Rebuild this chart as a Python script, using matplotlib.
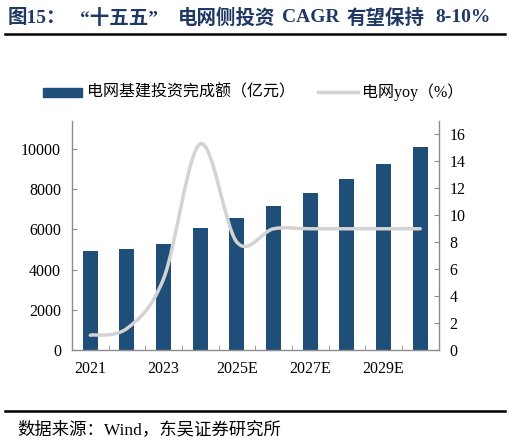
import matplotlib
matplotlib.use("Agg")
import matplotlib.pyplot as plt
import numpy as np
from matplotlib.path import Path
from matplotlib.patches import PathPatch, Rectangle
from matplotlib.lines import Line2D

years = ["2021", "2022", "2023", "2024", "2025E", "2026E", "2027E", "2028E", "2029E", "2030E"]
tick_labels = ["2021", "", "2023", "", "2025E", "", "2027E", "", "2029E", ""]
invest = [4951, 5012, 5275, 6083, 6570, 7150, 7800, 8500, 9270, 10100]
yoy = [1.1, 1.6, 5.3, 15.3, 8.0, 9.0, 9.0, 9.0, 9.0, 9.0]
left_ticks = [0, 2000, 4000, 6000, 8000, 10000]
right_ticks = [0, 2, 4, 6, 8, 10, 12, 14, 16]

title_parts = ["图15：", "“十五五”", "电网侧投资", "CAGR", "有望保持", "8-10%"]
legend_bar = "电网基建投资完成额（亿元）"
legend_line = "电网yoy（%）"
source = "数据来源：Wind，东吴证券研究所"

BAR = "#1F4E79"
LINE = "#D3D3D3"
NAVY = "#1F3864"
AXC = "#8C8C8C"
SERIF = ["Liberation Serif", "Noto Sans CJK SC"]

plt.rcParams["font.family"] = SERIF

W, H = 510, 444
fig = plt.figure(figsize=(W / 100, H / 100), dpi=100)
ax = fig.add_axes([72 / W, 1 - 350 / H, (438.5 - 72) / W, (350 - 121) / H])
ax2 = ax.twinx()

x = np.arange(len(years))
ax.bar(x, invest, width=0.41, color=BAR, zorder=2)
ax.set_xlim(-0.5, len(years) - 0.5)
ax.set_ylim(0, 11400)
ax2.set_ylim(0, 17)

# smoothed line (Catmull-Rom style like Excel smoothing)
verts = [(x[0], yoy[0])]
codes = [Path.MOVETO]
n = len(yoy)
for i in range(n - 1):
    p0 = np.array([x[max(i - 1, 0)], yoy[max(i - 1, 0)]], float)
    p1 = np.array([x[i], yoy[i]], float)
    p2 = np.array([x[i + 1], yoy[i + 1]], float)
    p3 = np.array([x[min(i + 2, n - 1)], yoy[min(i + 2, n - 1)]], float)
    c1 = p1 + (p2 - p0) / 6
    c2 = p2 - (p3 - p1) / 6
    verts += [tuple(c1), tuple(c2), tuple(p2)]
    codes += [Path.CURVE4] * 3
patch = PathPatch(Path(verts, codes), facecolor="none", edgecolor=LINE, lw=2.5,
                  capstyle="round", zorder=3)
ax2.add_patch(patch)

# axes styling
for a in (ax, ax2):
    a.spines["top"].set_visible(False)
    for s in ("left", "right", "bottom"):
        a.spines[s].set_color(AXC)
        a.spines[s].set_linewidth(1.0)
ax.spines["right"].set_visible(False)
ax2.spines["left"].set_visible(False)
ax2.spines["bottom"].set_visible(False)

ax.set_yticks(left_ticks)
ax.set_yticklabels([str(v) for v in left_ticks])
ax2.set_yticks(right_ticks)
ax2.set_yticklabels([str(v) for v in right_ticks])
ax.tick_params(axis="y", direction="in", length=3.5, color=AXC, pad=8, labelsize=11.5)
ax2.tick_params(axis="y", direction="in", length=3.5, color=AXC, pad=8, labelsize=11.5)

ax.set_xticks(x)
ax.set_xticklabels(tick_labels)
ax.set_xticks(np.arange(-0.5, len(years), 1.0), minor=True)
ax.tick_params(axis="x", which="major", length=0, pad=8, labelsize=11.5)
ax.tick_params(axis="x", which="minor", direction="in", length=3.5, color=AXC)
for lbl in ax.get_yticklabels() + ax2.get_yticklabels() + ax.get_xticklabels():
    lbl.set_fontfamily(SERIF)

# title (placed in pieces to reproduce the original spacing)
title_x = [8, 80, 178, 282, 347, 435]
for txt, px in zip(title_parts, title_x):
    fig.text(px / W, 1 - 18 / H, txt, fontfamily=SERIF, fontsize=14, fontweight="bold",
             color=NAVY, va="center", ha="left")
fig.add_artist(Line2D([5 / W, 505 / W], [1 - 34.5 / H] * 2, color="black", lw=1.8,
                      transform=fig.transFigure))
fig.add_artist(Line2D([5 / W, 505 / W], [1 - 411 / H] * 2, color="black", lw=1.8,
                      transform=fig.transFigure))

# source
fig.text(17 / W, 1 - 430 / H, source, fontfamily=SERIF, fontsize=12.5, va="center", ha="left")

# legend
ly = 1 - 92.5 / H
fig.add_artist(Rectangle((43 / W, ly - 4 / H), 39 / W, 8 / H, color=BAR,
                         transform=fig.transFigure))
fig.text(87 / W, ly, legend_bar, fontfamily=SERIF, fontsize=11.5, va="center", ha="left")
fig.add_artist(Line2D([318 / W, 358 / W], [ly, ly], color=LINE, lw=2.5,
                      transform=fig.transFigure))
fig.text(362 / W, ly, legend_line, fontfamily=SERIF, fontsize=11.5, va="center", ha="left")

fig.savefig("out.png", dpi=100)
